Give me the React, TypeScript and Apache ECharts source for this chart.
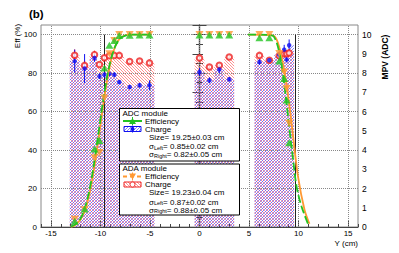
import React, { useEffect, useRef } from 'react';
import * as echarts from 'echarts';

// ---------- data ----------
const xTickValues = [-15, -10, -5, 0, 5, 10, 15];
const yLeftGrid = [20, 40, 60, 80, 100];
const edgeLines = [-9.625, 9.625];

// bin centres (cm)
const binCenters = [
  -12.6, -11.6, -10.6, -10.1, -9.6, -9.1, -8.6, -8.1, -7.05, -6.05, -5.05,
  0, 1, 2, 3,
  6.05, 7.05, 8.05, 8.55, 8.8, 9.05,
];
const binLow = [
  -13.1, -12.1, -11.1, -10.35, -9.85, -9.35, -8.85, -8.35, -7.6, -6.55, -5.55,
  -0.5, 0.5, 1.5, 2.5,
  5.55, 6.55, 7.55, 8.3, 8.68, 8.93,
];
const binHigh = [
  -12.1, -11.1, -10.35, -9.85, -9.35, -8.85, -8.35, -7.6, -6.55, -5.55, -4.55,
  0.5, 1.5, 2.5, 3.5,
  6.55, 7.55, 8.3, 8.68, 8.93, 9.55,
];
// charge MPV
const adcCharge = [8.62, 8.24, 8.79, 7.84, 7.92, 7.97, 7.92, 7.54, 7.28, 7.37, 7.37, 8.06, 7.63, 8.19, 7.68, 8.58, 8.67, 8.96, 9.22, 8.7, 9.45];
const adcChargeErr = [0.6, 0.75, 0.2, 0.15, 0.15, 0.12, 0.12, 0.1, 0.1, 0.12, 0.25, 0.2, 0.15, 0.2, 0.12, 0.15, 0.12, 0.2, 0.25, 0.15, 0.3];
const adaCharge = [8.93, 8.4, 8.96, 8.45, 8.8, 8.9, 8.92, 8.92, 8.6, 8.63, 8.53, 8.79, 8.32, 8.41, 8.84, 8.92, 8.67, 8.9, 9.0, 9.0, 9.05];
const adaChargeErr = [0.3, 0.25, 0.2, 0.12, 0.1, 0.1, 0.1, 0.1, 0.1, 0.1, 0.1, 0.12, 0.1, 0.1, 0.1, 0.1, 0.1, 0.12, 0.15, 0.12, 0.15];
// efficiency (%)
const adcEff = [3.0, 9.3, 40.5, 45, 82.7, 94.5, 97, 99.6, 99.7, 99.8, 99.8, 99.8, 99.8, 99.8, 99.8, 98.4, 98.4, 86.3, 77.2, 66, 43.8];
const adaEff = [4.0, 9.0, 36, 38.7, 67, 90, 97, 100, 100, 100, 100, 100, 100, 100, 100, 100, 100, 90.2, 80.6, 72, 53.9];

// fit curves (x cm, eff %)
const adcFitLeft = [[-13.0, 0.2], [-12.5, 1.5], [-12.0, 4.5], [-11.5, 11], [-11.0, 22], [-10.5, 38], [-10.0, 56], [-9.5, 73], [-9.0, 86], [-8.5, 94], [-8.0, 98], [-7.5, 99.5], [-7.0, 100], [-4.9, 100]];
const adaFitLeft = [[-13.0, 0.1], [-12.5, 1.2], [-12.0, 4], [-11.5, 9.5], [-11.0, 20], [-10.5, 35], [-10.0, 53], [-9.5, 71], [-9.0, 85], [-8.5, 94], [-8.0, 98.3], [-7.5, 99.6], [-7.0, 100], [-4.9, 100]];
const adcFitRight = [[4.9, 100], [7.0, 99.8], [7.5, 99], [8.0, 92], [8.4, 80], [8.75, 66], [9.1, 50], [9.45, 35], [9.8, 21], [10.3, 10.7], [11.0, 1]];
const adaFitRight = [[4.9, 100], [7.0, 99.8], [7.6, 99], [8.05, 93.6], [8.6, 80], [9.05, 64], [9.45, 47], [9.95, 26], [10.6, 9], [11.1, 1.7]];

const FONT = 'Liberation Sans, Arial, Helvetica, sans-serif';
const GREEN = '#22c422';
const ORANGE = '#ff9933';
const BLUE = '#1010f0';
const RED = '#ee2020';
const HATCH_BLUE = 'rgba(70,70,255,0.75)';
const HATCH_RED = 'rgba(255,80,80,0.7)';

// hatch lines clipped to a rectangle (screen coords)
function hatch(x0: number, y0: number, x1: number, y1: number, dir: string, step: number, color: string, z?: number) {
  const out: any[] = [];
  if (x1 <= x0 || y1 <= y0) return out;
  const mk = (ax: number, ay: number, bx: number, by: number) => {
    const el: any = { type: 'line', shape: { x1: ax, y1: ay, x2: bx, y2: by }, style: { stroke: color, lineWidth: 0.9 } };
    if (z != null) el.z = z;
    return el;
  };
  if (dir === '/') {
    const cStart = Math.ceil((x0 + y0) / step) * step;
    for (let c = cStart; c <= x1 + y1; c += step) {
      const xa = Math.max(x0, c - y1);
      const xb = Math.min(x1, c - y0);
      if (xb - xa < 0.2) continue;
      out.push(mk(xa, c - xa, xb, c - xb));
    }
  } else {
    const cStart = Math.ceil((x0 - y1) / step) * step;
    for (let c = cStart; c <= x1 - y0; c += step) {
      const xa = Math.max(x0, c + y0);
      const xb = Math.min(x1, c + y1);
      if (xb - xa < 0.2) continue;
      out.push(mk(xa, xa - c, xb, xb - c));
    }
  }
  return out;
}

export default function App() {
  const ref = useRef<HTMLDivElement>(null);
  useEffect(() => {
    if (!ref.current) return;
    const chart = echarts.init(ref.current, null, { renderer: 'svg' });

    const histData = (vals: number[]) => binCenters.map((_, i) => [binLow[i], binHigh[i], vals[i]]);
    const errData = (vals: number[], errs: number[]) => binCenters.map((x, i) => [x, vals[i], errs[i]]);
    const ptData = (vals: number[]) => binCenters.map((x, i) => [x, vals[i]]);

    const histSeries = (name: string, vals: number[], dir: string, color: string, z: number) => ({
      name,
      type: 'custom',
      xAxisIndex: 0,
      yAxisIndex: 1,
      z,
      silent: true,
      encode: { x: [0, 1], y: 2 },
      data: histData(vals),
      renderItem: (params: any, api: any) => {
        const p1 = api.coord([api.value(0), api.value(2)]);
        const p2 = api.coord([api.value(1), 0]);
        return { type: 'group', children: hatch(p1[0], p1[1], p2[0], p2[1], dir, 3, color) };
      },
    });

    const errSeries = (vals: number[], errs: number[], color: string, z: number) => ({
      type: 'custom',
      xAxisIndex: 0,
      yAxisIndex: 1,
      z,
      silent: true,
      encode: { x: 0, y: 1 },
      data: errData(vals, errs),
      renderItem: (params: any, api: any) => {
        const x = api.value(0), y = api.value(1), e = api.value(2);
        const a = api.coord([x, y - e]);
        const b = api.coord([x, y + e]);
        return {
          type: 'line',
          shape: { x1: a[0], y1: a[1], x2: b[0], y2: b[1] },
          style: { stroke: color, lineWidth: 1 },
        };
      },
    });

    const axisCommon = {
      axisLine: { show: true, lineStyle: { color: '#444', width: 1.2 } },
      splitLine: { show: false },
      axisLabel: { color: '#000', fontFamily: FONT, fontSize: 8 },
    };

    const txt = (x: number, y: number, text: string, extra: any = {}) => ({
      type: 'text',
      x,
      y,
      z: 100,
      style: { text, fontFamily: FONT, fontSize: 8, fill: '#000', verticalAlign: 'middle', ...extra },
    });
    const sigma = (x: number, y: number, sub: string, rest: string) => ({
      type: 'text',
      x,
      y,
      z: 100,
      style: {
        text: `{m|σ}{s|${sub}}{m|${rest}}`,
        fontFamily: FONT,
        fontSize: 8,
        fill: '#000',
        verticalAlign: 'middle',
        rich: {
          m: { fontFamily: FONT, fontSize: 8, lineHeight: 11, verticalAlign: 'bottom', fill: '#000' },
          s: { fontFamily: FONT, fontSize: 5.5, lineHeight: 6, verticalAlign: 'bottom', fill: '#000' },
        },
      },
    });
    const triUp = (cx: number, cy: number, color: string) => ({
      type: 'polygon', z: 102,
      shape: { points: [[cx - 3.5, cy + 3], [cx + 3.5, cy + 3], [cx, cy - 3]] },
      style: { fill: color },
    });
    const triDown = (cx: number, cy: number, color: string) => ({
      type: 'polygon', z: 102,
      shape: { points: [[cx - 3.5, cy - 3], [cx + 3.5, cy - 3], [cx, cy + 3]] },
      style: { fill: color },
    });
    const legendBox = (y: number, dir: string, hcolor: string, border: string) => [
      ...hatch(124, y - 2.5, 141, y + 2.5, dir, 3, hcolor, 101),
      { type: 'rect', z: 101, shape: { x: 124, y: y - 2.5, width: 17, height: 5 }, style: { fill: null, stroke: border, lineWidth: 1 } },
    ];

    const bx = 119.5, bw = 120, sx = 123, ex = 142, cx = 132.5;
    const r1 = [113, 121, 129, 137, 145, 153];
    const r2 = [168.5, 176.5, 184.5, 192.5, 200.5, 208.5];

    const graphic: any[] = [
      // legend box 1
      { type: 'rect', z: 99, shape: { x: bx, y: 108.5, width: bw, height: 52.5 }, style: { fill: '#fff', stroke: '#000', lineWidth: 1 } },
      txt(122.5, r1[0], 'ADC module'),
      { type: 'line', z: 101, shape: { x1: sx, y1: r1[1], x2: ex, y2: r1[1] }, style: { stroke: GREEN, lineWidth: 2 } },
      { type: 'line', z: 101, shape: { x1: cx, y1: r1[1] - 4, x2: cx, y2: r1[1] + 4 }, style: { stroke: GREEN, lineWidth: 1 } },
      triUp(cx, r1[1], GREEN),
      txt(145, r1[1], 'Efficiency'),
      ...legendBox(r1[2], '/', HATCH_BLUE, BLUE),
      { type: 'line', z: 102, shape: { x1: cx, y1: r1[2] - 3.5, x2: cx, y2: r1[2] + 3.5 }, style: { stroke: BLUE, lineWidth: 1 } },
      { type: 'circle', z: 102, shape: { cx, cy: r1[2], r: 2 }, style: { fill: BLUE } },
      txt(145, r1[2], 'Charge'),
      txt(149, r1[3], 'Size= 19.25±0.03 cm'),
      sigma(149, r1[4], 'Left', '= 0.85±0.02 cm'),
      sigma(149, r1[5], 'Right', '= 0.82±0.05 cm'),
      // legend box 2
      { type: 'rect', z: 99, shape: { x: bx, y: 164, width: bw, height: 51 }, style: { fill: '#fff', stroke: '#000', lineWidth: 1 } },
      txt(122.5, r2[0], 'ADA module'),
      { type: 'line', z: 101, shape: { x1: sx, y1: r2[1], x2: ex, y2: r2[1] }, style: { stroke: ORANGE, lineWidth: 2, lineDash: [4, 3] } },
      { type: 'line', z: 101, shape: { x1: cx, y1: r2[1] - 4, x2: cx, y2: r2[1] + 4 }, style: { stroke: ORANGE, lineWidth: 1 } },
      triDown(cx, r2[1], ORANGE),
      txt(145, r2[1], 'Efficiency'),
      ...legendBox(r2[2], '\\', HATCH_RED, RED),
      { type: 'circle', z: 102, shape: { cx, cy: r2[2], r: 2.5 }, style: { fill: '#fff', stroke: RED, lineWidth: 1 } },
      txt(145, r2[2], 'Charge'),
      txt(149, r2[3], 'Size= 19.23±0.04 cm'),
      sigma(149, r2[4], 'Left', '= 0.87±0.02 cm'),
      sigma(149, r2[5], 'Right', '= 0.88±0.05 cm'),
      // titles
      txt(29, 14, '(b)', { fontSize: 11.5, fontWeight: 'bold' }),
      txt(358, 243, 'Y (cm)', { align: 'right' }),
      { type: 'text', x: 17, y: 36, rotation: Math.PI / 2, z: 100,
        style: { text: 'Eff (%)', fontFamily: FONT, fontSize: 8, fill: '#000', align: 'center', verticalAlign: 'middle' } },
      { type: 'text', x: 385, y: 57, rotation: Math.PI / 2, z: 100,
        style: { text: 'MPV (ADC)', fontFamily: FONT, fontSize: 8.5, fontWeight: 'bold', fill: '#000', align: 'center', verticalAlign: 'middle' } },
    ];

    const option: any = {
      animation: false,
      backgroundColor: '#fff',
      grid: { left: 41, right: 41, top: 25, bottom: 26, show: true, borderColor: '#888', borderWidth: 1 },
      xAxis: [
        {
          type: 'value', min: -16, max: 16, interval: 1, position: 'bottom',
          ...axisCommon,
          axisTick: { show: true, inside: true, length: 3, lineStyle: { color: '#444' } },
          axisLabel: { ...axisCommon.axisLabel, margin: 2, formatter: (v: number) => (v % 5 === 0 ? String(v) : '') },
        },
        {
          type: 'value', min: -16, max: 16, position: 'bottom',
          axisLine: { show: false },
          axisTick: { show: true, inside: true, length: 7, customValues: xTickValues, lineStyle: { color: '#444' } },
          axisLabel: { show: false },
          splitLine: { show: false },
        },
      ],
      yAxis: [
        {
          type: 'value', min: 0, max: 105, interval: 20, position: 'left',
          ...axisCommon,
          axisTick: { show: true, inside: true, length: 7, lineStyle: { color: '#444' } },
          minorTick: { show: true, splitNumber: 4, length: 3.5, lineStyle: { color: '#444' } },
          axisLabel: { ...axisCommon.axisLabel, margin: 4, formatter: (v: number) => (v > 100 ? '' : String(v)) },
        },
        {
          type: 'value', min: 0, max: 10.5, interval: 1, position: 'right',
          ...axisCommon,
          axisTick: { show: true, inside: true, length: 7, lineStyle: { color: '#444' } },
          minorTick: { show: true, splitNumber: 2, length: 3.5, lineStyle: { color: '#444' } },
          axisLabel: { ...axisCommon.axisLabel, margin: 4, fontSize: 8.5, formatter: (v: number) => (v > 10 ? '' : String(v)) },
        },
      ],
      graphic,
      series: [
        {
          type: 'line', xAxisIndex: 0, yAxisIndex: 0, data: [], z: 0, silent: true,
          markLine: {
            silent: true, symbol: 'none', label: { show: false },
            lineStyle: { color: '#888', type: 'dotted', width: 1 },
            data: [...xTickValues.map((v) => ({ xAxis: v })), ...yLeftGrid.map((v) => ({ yAxis: v }))],
          },
        },
        histSeries('ADA charge', adaCharge, '\\', HATCH_RED, 1),
        histSeries('ADC charge', adcCharge, '/', HATCH_BLUE, 2),
        {
          type: 'line', xAxisIndex: 0, yAxisIndex: 0, data: [], z: 3, silent: true,
          markLine: {
            silent: true, symbol: 'none', label: { show: false },
            lineStyle: { color: '#222', type: 'solid', width: 1 },
            data: edgeLines.map((v) => [{ coord: [v, 0] }, { coord: [v, 100] }]),
          },
        },
        errSeries(adaCharge, adaChargeErr, RED, 5),
        errSeries(adcCharge, adcChargeErr, BLUE, 6),
        {
          type: 'scatter', xAxisIndex: 0, yAxisIndex: 1, z: 7, data: ptData(adaCharge),
          symbol: 'emptyCircle', symbolSize: 5.5, itemStyle: { color: RED, borderColor: RED, borderWidth: 1 },
        },
        {
          type: 'scatter', xAxisIndex: 0, yAxisIndex: 1, z: 8, data: ptData(adcCharge),
          symbol: 'circle', symbolSize: 4.5, itemStyle: { color: BLUE },
        },
        ...[adaFitLeft, adaFitRight].map((d) => ({
          type: 'line', xAxisIndex: 0, yAxisIndex: 0, z: 9, data: d, smooth: 0.35, showSymbol: false, silent: true,
          lineStyle: { color: ORANGE, width: 1.8 },
        })),
        ...[adcFitLeft, adcFitRight].map((d) => ({
          type: 'line', xAxisIndex: 0, yAxisIndex: 0, z: 10, data: d, smooth: 0.35, showSymbol: false, silent: true,
          lineStyle: { color: GREEN, width: 1.8, type: [8, 3] },
        })),
        {
          type: 'scatter', xAxisIndex: 0, yAxisIndex: 0, z: 11, data: ptData(adaEff),
          symbol: 'triangle', symbolRotate: 180, symbolSize: [8, 7], itemStyle: { color: ORANGE },
        },
        {
          type: 'scatter', xAxisIndex: 0, yAxisIndex: 0, z: 12, data: ptData(adcEff),
          symbol: 'triangle', symbolSize: [8, 7], itemStyle: { color: GREEN },
        },
      ],
    };
    chart.setOption(option);
    return () => chart.dispose();
  }, []);
  return <div ref={ref} style={{ position: 'fixed', left: 0, top: 0, width: 399, height: 253 }} />;
}
